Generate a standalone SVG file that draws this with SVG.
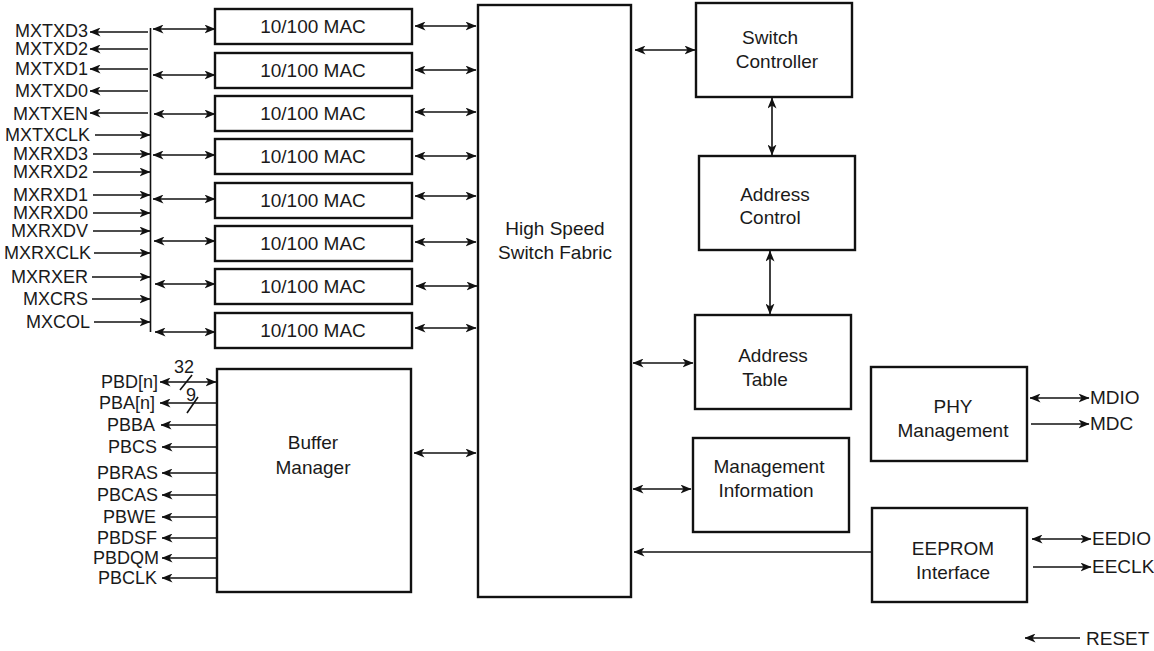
<svg xmlns="http://www.w3.org/2000/svg" width="1154" height="651" viewBox="0 0 1154 651">
<style>
text{font-family:"Liberation Sans",Arial,sans-serif;font-size:19px;fill:#1a1a1a}
.s{font-size:18px}
.box{fill:#fff;stroke:#111;stroke-width:2.4}
.w{stroke:#111;stroke-width:1.6;fill:none}
.a{stroke:#111;stroke-width:1.6;fill:none;marker-end:url(#ah)}
.b{stroke:#111;stroke-width:1.6;fill:none;marker-end:url(#ah);marker-start:url(#ah)}
.e{text-anchor:end}
.m{text-anchor:middle}
</style>
<defs>
<marker id="ah" viewBox="0 0 11 9" refX="10.5" refY="4.5" markerWidth="11" markerHeight="9" markerUnits="userSpaceOnUse" orient="auto-start-reverse">
<path d="M0,0 L11,4.5 L0,9 L3,4.5 z" fill="#111"/>
</marker>
</defs>
<rect width="1154" height="651" fill="#fff"/>

<g id="macs">
<g id="mac1"><rect class="box" x="215" y="9" width="197" height="35"/><text class="m" x="313" y="33">10/100 MAC</text></g>
<g id="mac2"><rect class="box" x="215" y="53" width="197" height="35"/><text class="m" x="313" y="77">10/100 MAC</text></g>
<g id="mac3"><rect class="box" x="215" y="96" width="197" height="35"/><text class="m" x="313" y="120">10/100 MAC</text></g>
<g id="mac4"><rect class="box" x="215" y="139" width="197" height="35"/><text class="m" x="313" y="163">10/100 MAC</text></g>
<g id="mac5"><rect class="box" x="215" y="183" width="197" height="35"/><text class="m" x="313" y="207">10/100 MAC</text></g>
<g id="mac6"><rect class="box" x="215" y="226" width="197" height="35"/><text class="m" x="313" y="250">10/100 MAC</text></g>
<g id="mac7"><rect class="box" x="215" y="269" width="197" height="35"/><text class="m" x="313" y="293">10/100 MAC</text></g>
<g id="mac8"><rect class="box" x="215" y="313" width="197" height="35"/><text class="m" x="313" y="337">10/100 MAC</text></g>
</g>

<g id="fabric"><rect class="box" x="478" y="5" width="153" height="592"/>
<text class="m" x="555" y="235">High Speed</text><text class="m" x="555" y="259">Switch Fabric</text></g>

<g id="switchctl"><rect class="box" x="696" y="3" width="156" height="94"/>
<text class="m" x="770" y="44">Switch</text><text class="m" x="777" y="68">Controller</text></g>

<g id="addrctl"><rect class="box" x="699" y="156" width="156" height="94"/>
<text class="m" x="775" y="201">Address</text><text class="m" x="770" y="224">Control</text></g>

<g id="addrtbl"><rect class="box" x="695" y="315" width="156" height="94"/>
<text class="m" x="773" y="362">Address</text><text class="m" x="765" y="386">Table</text></g>

<g id="mgmtinfo"><rect class="box" x="693" y="438" width="156" height="94"/>
<text class="m" x="769" y="473">Management</text><text class="m" x="766" y="497">Information</text></g>

<g id="phy"><rect class="box" x="871" y="367" width="156" height="94"/>
<text class="m" x="953" y="413">PHY</text><text class="m" x="953" y="437">Management</text></g>

<g id="eeprom"><rect class="box" x="872" y="508" width="155" height="94"/>
<text class="m" x="953" y="555">EEPROM</text><text class="m" x="953" y="579">Interface</text></g>

<g id="bufmgr"><rect class="box" x="217" y="369" width="194" height="223"/>
<text class="m" x="313" y="449">Buffer</text><text class="m" x="313" y="474">Manager</text></g>

<g id="signals">
<text class="e s" x="88" y="37">MXTXD3</text>
<text class="e s" x="88" y="55">MXTXD2</text>
<text class="e s" x="88" y="75">MXTXD1</text>
<text class="e s" x="88" y="97">MXTXD0</text>
<text class="e s" x="88" y="120">MXTXEN</text>
<text class="e s" x="90" y="141">MXTXCLK</text>
<text class="e s" x="88" y="160">MXRXD3</text>
<text class="e s" x="88" y="178">MXRXD2</text>
<text class="e s" x="88" y="201">MXRXD1</text>
<text class="e s" x="88" y="219">MXRXD0</text>
<text class="e s" x="88" y="237">MXRXDV</text>
<text class="e s" x="91" y="259">MXRXCLK</text>
<text class="e s" x="88" y="283">MXRXER</text>
<text class="e s" x="88" y="305">MXCRS</text>
<text class="e s" x="90" y="328">MXCOL</text>

<text class="e s" x="158" y="388">PBD[n]</text>
<text class="e s" x="155" y="409">PBA[n]</text>
<text class="e s" x="155" y="431">PBBA</text>
<text class="e s" x="157" y="453">PBCS</text>
<text class="e s" x="158" y="479">PBRAS</text>
<text class="e s" x="158" y="501">PBCAS</text>
<text class="e s" x="156" y="523">PBWE</text>
<text class="e s" x="157" y="544">PBDSF</text>
<text class="e s" x="159" y="564">PBDQM</text>
<text class="e s" x="157" y="584">PBCLK</text>
<text class="m s" x="184" y="373">32</text>
<text class="m s" x="191" y="401">9</text>

<text x="1090" y="404">MDIO</text>
<text x="1090" y="430">MDC</text>
<text x="1092" y="545">EEDIO</text>
<text x="1092" y="573">EECLK</text>
<text x="1086" y="645">RESET</text>
</g>

<g id="connectors">
<line class="w" x1="150.5" y1="28" x2="150.5" y2="332"/>
<line class="a" x1="148" y1="32" x2="90" y2="32"/>
<line class="a" x1="148" y1="49" x2="90" y2="49"/>
<line class="a" x1="148" y1="69" x2="90" y2="69"/>
<line class="a" x1="148" y1="91" x2="90" y2="91"/>
<line class="a" x1="148" y1="113" x2="90" y2="113"/>
<line class="a" x1="95" y1="135" x2="150" y2="135"/>
<line class="a" x1="93" y1="154" x2="150" y2="154"/>
<line class="a" x1="93" y1="172" x2="150" y2="172"/>
<line class="a" x1="93" y1="195" x2="150" y2="195"/>
<line class="a" x1="93" y1="213" x2="150" y2="213"/>
<line class="a" x1="93" y1="231" x2="150" y2="231"/>
<line class="a" x1="94" y1="253" x2="150" y2="253"/>
<line class="a" x1="92" y1="277" x2="150" y2="277"/>
<line class="a" x1="92" y1="299" x2="150" y2="299"/>
<line class="a" x1="94" y1="322" x2="150" y2="322"/>

<line class="b" x1="153" y1="29" x2="215" y2="29"/>
<line class="b" x1="153" y1="75" x2="215" y2="75"/>
<line class="b" x1="154" y1="114" x2="215" y2="114"/>
<line class="b" x1="153" y1="155" x2="215" y2="155"/>
<line class="b" x1="153" y1="199" x2="215" y2="199"/>
<line class="b" x1="154" y1="241" x2="215" y2="241"/>
<line class="b" x1="155" y1="284" x2="215" y2="284"/>
<line class="b" x1="155" y1="332" x2="215" y2="332"/>

<line class="b" x1="415" y1="26" x2="476" y2="26"/>
<line class="b" x1="415" y1="70" x2="476" y2="70"/>
<line class="b" x1="415" y1="112" x2="476" y2="112"/>
<line class="b" x1="415" y1="156" x2="476" y2="156"/>
<line class="b" x1="415" y1="196" x2="476" y2="196"/>
<line class="b" x1="415" y1="242" x2="476" y2="242"/>
<line class="b" x1="416" y1="286" x2="477" y2="286"/>
<line class="b" x1="415" y1="328" x2="476" y2="328"/>

<line class="b" x1="414" y1="453" x2="476" y2="453"/>

<line class="b" x1="635" y1="50" x2="695" y2="50"/>
<line class="b" x1="772" y1="98" x2="772" y2="155"/>
<line class="b" x1="770" y1="251" x2="770" y2="314"/>
<line class="b" x1="633" y1="363" x2="693" y2="363"/>
<line class="b" x1="633" y1="489" x2="691" y2="489"/>
<line class="a" x1="871" y1="552" x2="634" y2="552"/>

<line class="b" x1="1030" y1="398" x2="1089" y2="398"/>
<line class="a" x1="1031" y1="424" x2="1089" y2="424"/>
<line class="b" x1="1032" y1="539" x2="1091" y2="539"/>
<line class="a" x1="1033" y1="567" x2="1091" y2="567"/>
<line class="a" x1="1080" y1="638" x2="1025" y2="638"/>

<line class="b" x1="160" y1="382" x2="216" y2="382"/>
<line class="a" x1="216" y1="403" x2="160" y2="403"/>
<line class="a" x1="216" y1="425" x2="161" y2="425"/>
<line class="a" x1="216" y1="447" x2="162" y2="447"/>
<line class="a" x1="216" y1="473" x2="162" y2="473"/>
<line class="a" x1="216" y1="495" x2="162" y2="495"/>
<line class="a" x1="216" y1="517" x2="162" y2="517"/>
<line class="a" x1="216" y1="538" x2="162" y2="538"/>
<line class="a" x1="216" y1="558" x2="162" y2="558"/>
<line class="a" x1="216" y1="578" x2="162" y2="578"/>
<line class="w" x1="180" y1="390" x2="192" y2="375"/>
<line class="w" x1="187" y1="413" x2="198" y2="397"/>
</g>
</svg>
